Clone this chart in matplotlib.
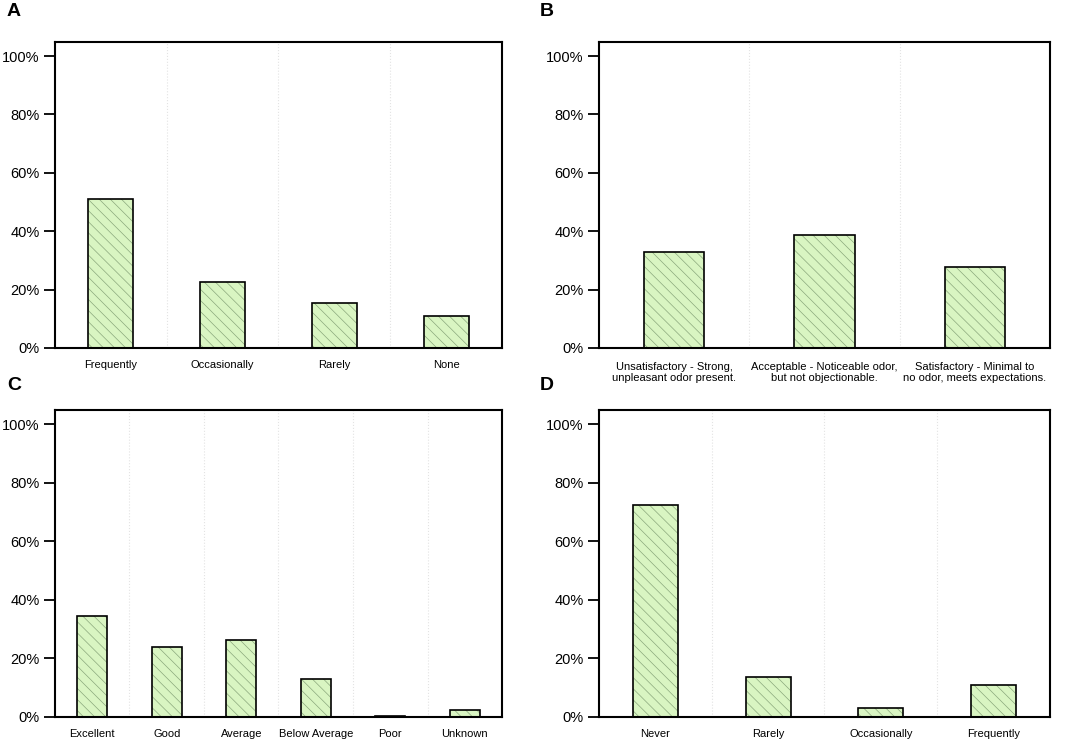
import matplotlib
matplotlib.use("Agg")
import matplotlib.pyplot as plt
import numpy as np

plt.rcParams["font.family"] = ["Liberation Sans", "DejaVu Sans"]
plt.rcParams["hatch.linewidth"] = 0.5

# panel data (percent of respondents)
cats_a = ["Frequently", "Occasionally", "Rarely", "None"]
vals_a = [50.9, 22.7, 15.3, 11.0]

cats_b = ["Unsatisfactory - Strong,\nunpleasant odor present.",
          "Acceptable - Noticeable odor,\nbut not objectionable.",
          "Satisfactory - Minimal to\nno odor, meets expectations."]
vals_b = [33.0, 38.7, 27.6]

cats_c = ["Excellent", "Good", "Average", "Below Average", "Poor", "Unknown"]
vals_c = [34.5, 23.8, 26.1, 12.9, 0.2, 2.2]

cats_d = ["Never", "Rarely", "Occasionally", "Frequently"]
vals_d = [72.2, 13.7, 3.1, 10.9]

yticks = [0, 20, 40, 60, 80, 100]
ytick_labels = ["0%", "20%", "40%", "60%", "80%", "100%"]

FILL = "#d9f5c2"
HATCH_COL = "#8aa87c"


def draw_panel(ax, cats, vals):
    x = np.arange(len(cats))
    # hatched fill
    ax.bar(x, vals, width=0.4, color=FILL, edgecolor=HATCH_COL,
           hatch="\\\\\\", linewidth=0, zorder=2)
    # black outline
    ax.bar(x, vals, width=0.4, fill=False, edgecolor="black",
           linewidth=1.2, zorder=3)
    for b in np.arange(len(cats) - 1) + 0.5:
        ax.axvline(b, color="#e3e3e3", linestyle=":", linewidth=0.8, zorder=1)
    ax.set_xlim(-0.5, len(cats) - 0.5)
    ax.set_ylim(0, 104.8)
    ax.set_yticks(yticks)
    ax.set_yticklabels(ytick_labels, fontsize=10.5)
    ax.set_xticks(x)
    ax.set_xticklabels(cats, fontsize=8)
    ax.tick_params(axis="x", length=0, pad=9)
    ax.tick_params(axis="y", length=8, width=1.3, pad=3)
    for s in ax.spines.values():
        s.set_linewidth(1.5)


fig = plt.figure(figsize=(10.65, 7.41), dpi=100)
ax_a = fig.add_axes([0.0516, 0.5304, 0.4198, 0.4129])
ax_b = fig.add_axes([0.5624, 0.5304, 0.4235, 0.4129])
ax_c = fig.add_axes([0.0516, 0.0328, 0.4198, 0.4139])
ax_d = fig.add_axes([0.5624, 0.0328, 0.4235, 0.4139])

draw_panel(ax_a, cats_a, vals_a)
draw_panel(ax_b, cats_b, vals_b)
draw_panel(ax_c, cats_c, vals_c)
draw_panel(ax_d, cats_d, vals_d)

ax_b.tick_params(axis="x", pad=10)

# panel letters
for letter, (lx, ly) in {"A": (7, 12), "B": (540, 12),
                         "C": (7, 385), "D": (540, 385)}.items():
    fig.text(lx / 1065, 1 - ly / 741, letter, fontsize=14,
             fontweight="bold", ha="left", va="center")

fig.savefig("out.png", dpi=100)
